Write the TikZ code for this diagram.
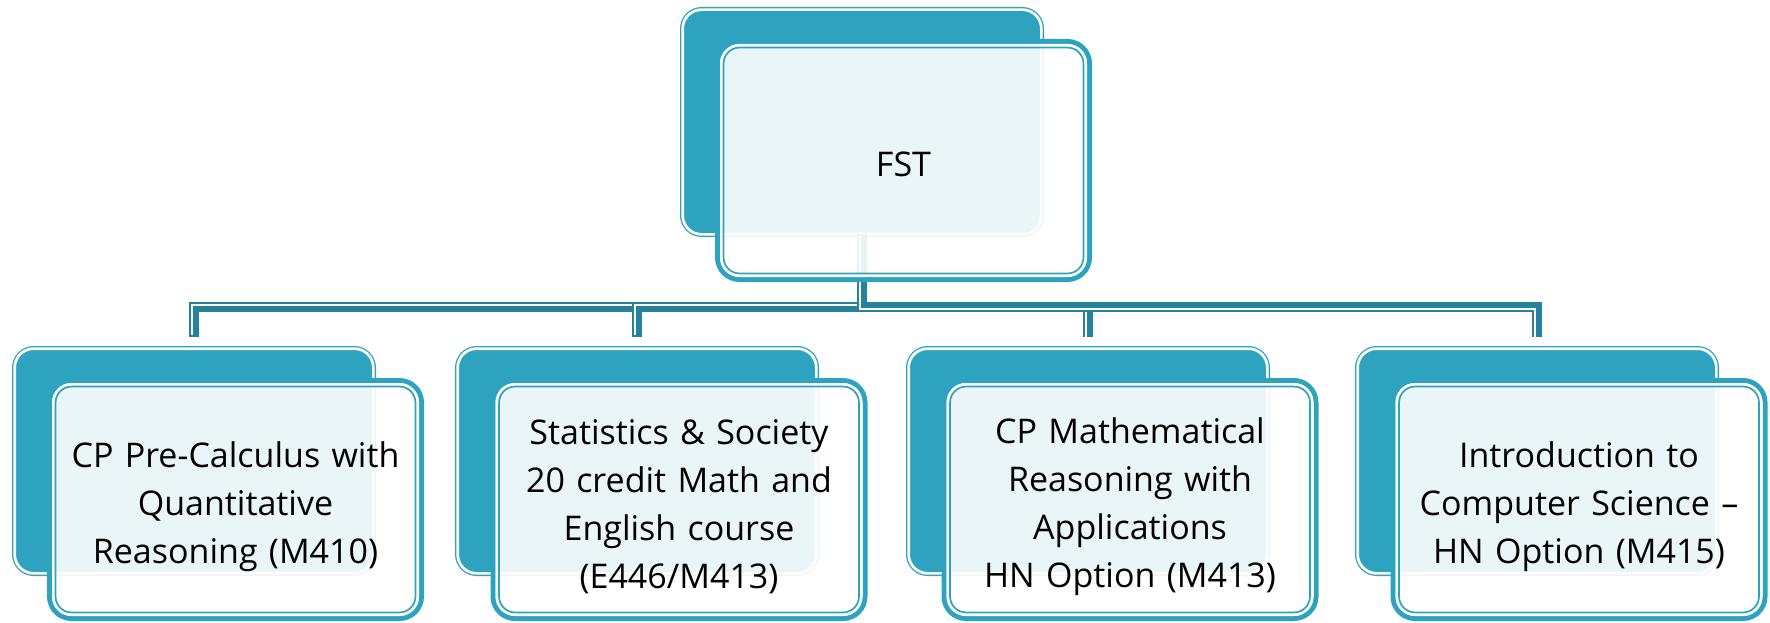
\documentclass[tikz,border=0pt]{standalone}
\usepackage{fontspec}
\setmainfont{Open Sans}
\usetikzlibrary{calc}
\definecolor{tealA}{RGB}{46,163,192}
\definecolor{tealC}{RGB}{36,130,156}
\begin{document}
\begin{tikzpicture}[x=1pt,y=-1pt,
  backbox/.style={rectangle, fill=tealA, draw=tealA, double=white, line width=1.3pt,
    double distance=2.7pt, rounded corners=19pt, minimum width=358.7pt,
    minimum height=224.7pt, outer sep=0pt, inner sep=0pt},
  frontbox/.style={rectangle, fill=white, fill opacity=0.9, draw=tealA,
    line width=5pt, rounded corners=22pt, minimum width=372pt, minimum height=238pt,
    outer sep=0pt, inner sep=0pt},
  txt/.style={align=center, text width=355pt, inner sep=0pt,
    font=\fontsize{34}{48}\selectfont},
  innerwhite/.style={draw=white, line width=2.7pt, rounded corners=18pt},
  innerteal/.style={draw=tealA, line width=1.7pt, rounded corners=16pt},
  conn/.style={draw=tealC, line width=10pt},
  connw/.style={draw=white, line width=2pt},
]
\useasboundingbox (0,0) rectangle (1770,623);
% back boxes
\node[backbox] (b0) at (862,122) {};
\node[backbox] (b1) at (194,461) {};
\node[backbox] (b2) at (637,461) {};
\node[backbox] (b3) at (1088,461) {};
\node[backbox] (b4) at (1537,461) {};
% connector ends
\coordinate (e1) at (194,337);
\coordinate (e2) at (637,337);
\coordinate (e3) at (1088,337);
\coordinate (e4) at (1537,337);
% connectors
\foreach \e/\s in {e1/-2,e2/-2,e3/2,e4/2}{
  \draw[conn] (b0.south) -- ++(0,73) -| (\e);
  \draw[connw, transform canvas={shift={(-2,\s)}}] (b0.south) -- ++(0,73) -| (\e);
}
% front boxes
\node[frontbox] (f0) at (903.5,160.5) {};
\node[frontbox] (f1) at (235.5,499.5) {};
\node[frontbox] (f2) at (679,499.5) {};
\node[frontbox] (f3) at (1130,499.5) {};
\node[frontbox] (f4) at (1579,499.5) {};
\foreach \n in {f0,f1,f2,f3,f4}{
  \draw[innerwhite] ($(\n.north west)+(3.85,3.85)$) rectangle ($(\n.south east)+(-3.85,-3.85)$);
  \draw[innerteal] ($(\n.north west)+(6.05,6.05)$) rectangle ($(\n.south east)+(-6.05,-6.05)$);
}
% texts
\node[txt] (t0) at ($(f0.center)+(0,4)$) {FST};
\node[txt] (t1) at ($(f1.center)+(0,7)$) {CP Pre-Calculus with\\Quantitative\\Reasoning (M410)};
\node[txt] (t2) at ($(f2.center)+(0,7)$) {Statistics \& Society\\20 credit Math and\\English course\\(E446/M413)};
\node[txt] (t3) at ($(f3.center)+(0,7)$) {CP Mathematical\\Reasoning with\\Applications\\HN Option (M413)};
\node[txt] (t4) at ($(f4.center)+(0,7)$) {Introduction to\\Computer Science –\\HN Option (M415)};
\end{tikzpicture}
\end{document}
